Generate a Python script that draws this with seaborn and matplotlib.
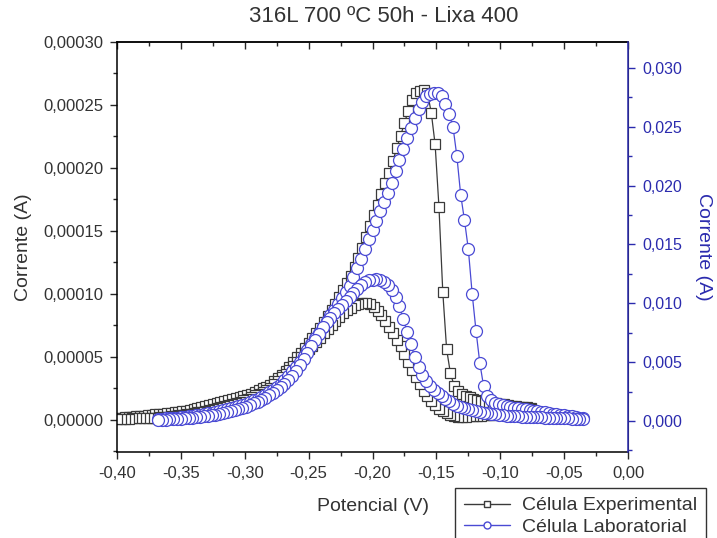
# =====================================
# Import libraries
# =====================================
import numpy as np
import pandas as pd
import matplotlib
matplotlib.use("Agg")
import matplotlib.pyplot as plt
from matplotlib.lines import Line2D
from matplotlib.ticker import MultipleLocator, FuncFormatter
import seaborn as sns

# =====================================
# Data
# =====================================
# Célula Experimental - potential (V), current in microampere (left axis)
exp_potential = [
    -0.400, -0.397, -0.394, -0.391, -0.388, -0.385, -0.382, -0.379, -0.376, -0.373,
    -0.370, -0.367, -0.364, -0.361, -0.358, -0.355, -0.352, -0.349, -0.346, -0.343,
    -0.340, -0.337, -0.334, -0.331, -0.328, -0.325, -0.322, -0.319, -0.316, -0.313,
    -0.310, -0.307, -0.304, -0.301, -0.298, -0.295, -0.292, -0.289, -0.286, -0.283,
    -0.280, -0.277, -0.274, -0.271, -0.268, -0.265, -0.262, -0.259, -0.256, -0.253,
    -0.250, -0.247, -0.244, -0.241, -0.238, -0.235, -0.232, -0.229, -0.226, -0.223,
    -0.220, -0.217, -0.214, -0.211, -0.208, -0.205, -0.202, -0.199, -0.196, -0.193,
    -0.190, -0.187, -0.184, -0.181, -0.178, -0.175, -0.172, -0.169, -0.166, -0.163,
    -0.160, -0.157, -0.154, -0.151, -0.148, -0.145, -0.142, -0.139, -0.136, -0.133,
    -0.130, -0.127, -0.124, -0.121, -0.118, -0.115, -0.112, -0.109, -0.106, -0.103,
    -0.100, -0.097, -0.094, -0.091, -0.088, -0.085, -0.082, -0.079, -0.076,
]
# forward (anodic) scan
exp_forward = [
    1.6, 1.8, 2.1, 2.3, 2.5, 2.9, 3.2, 3.5, 3.8, 4.1,
    4.4, 4.7, 5.0, 5.3, 5.6, 6.1, 6.5, 7.0, 7.5, 7.9,
    8.7, 9.4, 10.2, 11.0, 11.7, 12.5, 13.3, 14.0, 14.8, 15.5,
    16.4, 17.2, 18.2, 19.1, 20.0, 21.0, 22.4, 23.8, 25.2, 26.5,
    28.0, 30.6, 33.3, 35.9, 38.7, 42.4, 46.0, 49.6, 53.4, 57.3,
    61.3, 65.2, 69.2, 73.2, 77.8, 82.3, 87.1, 92.3, 97.5, 102.9,
    108.4, 114.2, 121.4, 128.9, 136.8, 145.3, 154.0, 162.4, 170.9, 179.3,
    188.0, 196.4, 205.8, 215.7, 225.4, 235.5, 245.6, 254.0, 259.4, 261.4,
    261.9, 259.7, 243.8, 218.7, 169.2, 101.6, 56.2, 36.9, 27.0, 22.7,
    20.7, 18.8, 17.9, 16.8, 15.8, 14.9, 14.5, 14.1, 13.6, 13.1,
    12.7, 12.3, 11.8, 11.4, 11.0, 10.6, 10.3, 9.9, 9.5,
]
# reverse (reactivation) scan, listed at the same potentials
exp_reverse = [
    0.8, 0.9, 1.0, 1.0, 1.2, 1.3, 1.4, 1.4, 1.5, 1.7,
    1.9, 2.1, 2.4, 2.6, 2.9, 3.3, 3.6, 4.0, 4.4, 4.8,
    5.3, 6.0, 6.6, 7.1, 7.8, 8.5, 9.2, 10.0, 10.8, 11.5,
    12.5, 13.5, 14.6, 15.6, 16.8, 17.9, 19.5, 21.0, 22.5, 24.0,
    25.6, 28.3, 31.1, 33.8, 36.5, 39.3, 42.7, 46.2, 49.8, 53.0,
    56.0, 59.1, 62.2, 65.3, 68.7, 71.9, 75.2, 78.5, 81.8, 85.0,
    87.1, 89.1, 91.0, 92.1, 92.9, 92.5, 92.1, 89.4, 86.7, 83.3,
    78.6, 74.1, 69.1, 63.8, 58.5, 52.1, 45.7, 40.0, 34.4, 28.7,
    23.1, 18.8, 14.8, 11.8, 8.8, 6.8, 5.3, 3.9, 3.3, 2.7,
    2.5, 2.6, 2.8, 2.9, 3.1, 3.3, 3.6, 3.9, 4.2, 4.4,
    4.8, 5.2, 5.6, 6.0, 6.4, 7.0, 7.5, 8.2, 8.7,
]

# Célula Laboratorial - potential (V), current in milliampere (right axis)
lab_potential = [
    -0.368, -0.365, -0.362, -0.359, -0.356, -0.353, -0.350, -0.347, -0.344, -0.341,
    -0.338, -0.335, -0.332, -0.329, -0.326, -0.323, -0.320, -0.317, -0.314, -0.311,
    -0.308, -0.305, -0.302, -0.299, -0.296, -0.293, -0.290, -0.287, -0.284, -0.281,
    -0.278, -0.275, -0.272, -0.269, -0.266, -0.263, -0.260, -0.257, -0.254, -0.251,
    -0.248, -0.245, -0.242, -0.239, -0.236, -0.233, -0.230, -0.227, -0.224, -0.221,
    -0.218, -0.215, -0.212, -0.209, -0.206, -0.203, -0.200, -0.197, -0.194, -0.191,
    -0.188, -0.185, -0.182, -0.179, -0.176, -0.173, -0.170, -0.167, -0.164, -0.161,
    -0.158, -0.155, -0.152, -0.149, -0.146, -0.143, -0.140, -0.137, -0.134, -0.131,
    -0.128, -0.125, -0.122, -0.119, -0.116, -0.113, -0.110, -0.107, -0.104, -0.101,
    -0.098, -0.095, -0.092, -0.089, -0.086, -0.083, -0.080, -0.077, -0.074, -0.071,
    -0.068, -0.065, -0.062, -0.059, -0.056, -0.053, -0.050, -0.047, -0.044, -0.041,
    -0.038, -0.035,
]
lab_forward = [
    0.17, 0.20, 0.21, 0.24, 0.26, 0.28, 0.31, 0.35, 0.39, 0.43,
    0.47, 0.51, 0.58, 0.64, 0.71, 0.77, 0.83, 0.91, 0.99, 1.08,
    1.16, 1.24, 1.35, 1.48, 1.62, 1.74, 1.87, 2.03, 2.24, 2.45,
    2.66, 2.87, 3.11, 3.49, 3.86, 4.23, 4.62, 4.99, 5.49, 6.01,
    6.53, 7.01, 7.50, 7.99, 8.48, 8.97, 9.46, 9.95, 10.45, 10.98,
    11.50, 12.21, 12.98, 13.74, 14.58, 15.44, 16.24, 17.01, 17.81, 18.59,
    19.36, 20.25, 21.22, 22.18, 23.13, 24.03, 24.91, 25.74, 26.52, 27.12,
    27.61, 27.80, 27.92, 27.92, 27.59, 26.92, 26.10, 25.00, 22.53, 19.24,
    17.05, 14.60, 10.82, 7.67, 4.91, 2.93, 2.13, 1.76, 1.51, 1.42,
    1.34, 1.26, 1.18, 1.14, 1.09, 1.04, 0.99, 0.94, 0.88, 0.83,
    0.78, 0.73, 0.68, 0.63, 0.58, 0.53, 0.48, 0.43, 0.38, 0.33,
    0.29, 0.25,
]
lab_reverse = [
    0.09, 0.10, 0.11, 0.13, 0.14, 0.16, 0.18, 0.21, 0.24, 0.27,
    0.31, 0.34, 0.39, 0.44, 0.48, 0.54, 0.59, 0.65, 0.74, 0.82,
    0.90, 0.99, 1.10, 1.22, 1.36, 1.49, 1.64, 1.82, 1.99, 2.17,
    2.39, 2.63, 2.87, 3.11, 3.47, 3.86, 4.28, 4.76, 5.25, 5.77,
    6.33, 6.89, 7.41, 7.95, 8.38, 8.78, 9.16, 9.52, 9.85, 10.18,
    10.50, 10.87, 11.24, 11.56, 11.80, 11.94, 12.02, 12.07, 11.97, 11.85,
    11.55, 11.16, 10.54, 9.76, 8.70, 7.60, 6.50, 5.46, 4.58, 3.87,
    3.39, 2.98, 2.65, 2.34, 2.09, 1.85, 1.66, 1.46, 1.31, 1.20,
    1.09, 0.99, 0.90, 0.83, 0.77, 0.71, 0.64, 0.59, 0.55, 0.52,
    0.48, 0.45, 0.43, 0.41, 0.39, 0.37, 0.36, 0.34, 0.33, 0.31,
    0.31, 0.29, 0.27, 0.26, 0.25, 0.24, 0.23, 0.21, 0.20, 0.20,
    0.18, 0.17,
]

series_labels = ["Célula Experimental", "Célula Laboratorial"]

# Build closed loops (forward scan, then reverse scan back)
exp_df = pd.DataFrame({
    "Potencial": exp_potential + exp_potential[::-1],
    "Corrente": [v * 1e-6 for v in exp_forward + exp_reverse[::-1]],
})
lab_df = pd.DataFrame({
    "Potencial": lab_potential + lab_potential[::-1],
    "Corrente": [v * 1e-3 for v in lab_forward + lab_reverse[::-1]],
})

# =====================================
# Style
# =====================================
sns.set_style("ticks")
plt.rcParams["font.family"] = ["Liberation Sans", "DejaVu Sans"]

black = "#3a3a3a"
blue_marker = "#4a4ad4"
blue_axis = "#2b2bae"
text_gray = "#333333"

# =====================================
# Plot
# =====================================
fig = plt.figure(figsize=(7.17, 5.38), dpi=100)
ax = fig.add_axes([0.1632, 0.1599, 0.7127, 0.7621])

sns.lineplot(data=exp_df, x="Potencial", y="Corrente", ax=ax, sort=False,
             estimator=None, color=black, linewidth=0.9, marker="s",
             markersize=7.4, markerfacecolor="white", markeredgecolor=black,
             markeredgewidth=0.9)

ax2 = ax.twinx()
sns.lineplot(data=lab_df, x="Potencial", y="Corrente", ax=ax2, sort=False,
             estimator=None, color=blue_marker, linewidth=0.9, marker="o",
             markersize=8.6, markerfacecolor="white", markeredgecolor=blue_marker,
             markeredgewidth=0.9)

# axis ranges
ax.set_xlim(-0.40, 0.00)
ax.set_ylim(-0.0000254, 0.00030)
ax2.set_ylim(-0.00264, 0.03222)


def comma_fmt(decimals):
    def f(v, pos):
        if abs(v) < 1e-12:
            v = 0.0
        return f"{v:.{decimals}f}".replace(".", ",")
    return FuncFormatter(f)


ax.xaxis.set_major_locator(MultipleLocator(0.05))
ax.xaxis.set_minor_locator(MultipleLocator(0.025))
ax.xaxis.set_major_formatter(comma_fmt(2))
ax.yaxis.set_major_locator(MultipleLocator(0.00005))
ax.yaxis.set_minor_locator(MultipleLocator(0.000025))
ax.yaxis.set_major_formatter(comma_fmt(5))
ax2.yaxis.set_major_locator(MultipleLocator(0.005))
ax2.yaxis.set_minor_locator(MultipleLocator(0.0025))
ax2.yaxis.set_major_formatter(comma_fmt(3))

# ticks
ax.tick_params(axis="both", which="major", direction="out", length=5,
               width=1, labelsize=12, labelcolor=text_gray, pad=5)
ax.tick_params(axis="both", which="minor", direction="out", length=3, width=1)
ax2.tick_params(axis="y", which="major", direction="out", length=5, width=1,
                colors=blue_axis, labelsize=11.5, pad=5)
ax2.tick_params(axis="y", which="minor", direction="out", length=3, width=1,
                colors=blue_axis)

# top axis: inward ticks, no labels
secx = ax.secondary_xaxis("top")
secx.xaxis.set_major_locator(MultipleLocator(0.05))
secx.xaxis.set_minor_locator(MultipleLocator(0.025))
secx.tick_params(which="major", direction="in", length=5, width=1, labeltop=False)
secx.tick_params(which="minor", direction="in", length=3, width=1)

for side in ["left", "bottom", "top"]:
    ax.spines[side].set_linewidth(1.1)
    ax.spines[side].set_color("black")
ax2.spines["right"].set_color(blue_axis)
ax2.spines["right"].set_linewidth(1.1)
for side in ["left", "bottom", "top"]:
    ax2.spines[side].set_visible(False)
secx.spines["top"].set_linewidth(1.1)

# labels
ax.set_xlabel("Potencial (V)", fontsize=14, color=text_gray, labelpad=12)
ax.set_ylabel("Corrente (A)", fontsize=14, color=text_gray, labelpad=8)
ax2.set_ylabel("Corrente (A)", fontsize=14, color=blue_axis, rotation=270,
               labelpad=22)
fig.text(0.535, 0.970, "316L 700 ºC 50h - Lixa 400", ha="center", va="center",
         fontsize=16, color=text_gray)

# legend (partly outside the figure, as in the reference)
handles = [
    Line2D([0], [0], color=black, linewidth=1, marker="s", markersize=5,
           markerfacecolor="white", markeredgecolor=black),
    Line2D([0], [0], color=blue_marker, linewidth=1, marker="o", markersize=5,
           markerfacecolor="white", markeredgecolor=blue_marker),
]
leg = fig.legend(handles, series_labels, loc="upper left",
                 bbox_to_anchor=(0.6346, 0.0929), bbox_transform=fig.transFigure,
                 frameon=True, fancybox=False, edgecolor="black", fontsize=14,
                 labelspacing=0.2, handlelength=2.4, handletextpad=0.6,
                 borderpad=0.45, borderaxespad=0)
leg.get_frame().set_linewidth(1.0)
for t in leg.get_texts():
    t.set_color(text_gray)

fig.savefig("out.png", dpi=100)
print("Saved figure to out.png")
